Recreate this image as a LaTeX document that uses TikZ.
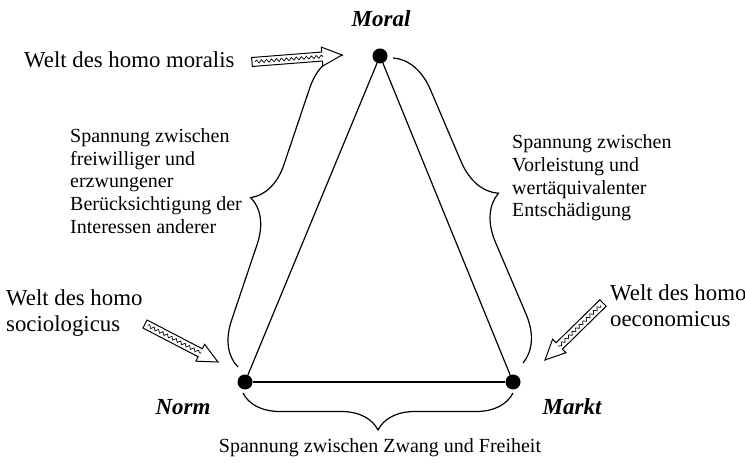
\documentclass[tikz,border=0pt]{standalone}
\usepackage{fontspec}
\setmainfont{Liberation Serif}
\usetikzlibrary{calc,decorations.pathreplacing,decorations.pathmorphing}

\begin{document}
\begin{tikzpicture}[x=1pt, y=1pt,
dot_style/.style={circle,fill=black,inner sep=0pt,minimum size=15pt},
corner_style/.style={font=\fontsize{23}{26}\selectfont\bfseries\itshape},
big_text/.style={align=left,anchor=west,inner sep=0pt,font=\fontsize{22.8}{26}\selectfont},
small_text/.style={align=left,anchor=west,inner sep=0pt,font=\fontsize{20}{22.7}\selectfont},
edge_style/.style={draw=black,line width=1.2pt},
brace_style/.style={draw=black,line width=1.2pt,decorate,decoration={brace,amplitude=#1}},
zz_outline/.style={draw=black,line width=1pt,fill=white,to path={
  ($(\tikztostart)!4.5pt!90:(\tikztotarget)$)
  -- ($(\tikztotarget)!20pt!(\tikztostart)!4.5pt!-90:(\tikztostart)$)
  -- ($(\tikztotarget)!20pt!(\tikztostart)!9.5pt!-90:(\tikztostart)$)
  -- (\tikztotarget)
  -- ($(\tikztotarget)!20pt!(\tikztostart)!9.5pt!90:(\tikztostart)$)
  -- ($(\tikztotarget)!20pt!(\tikztostart)!4.5pt!90:(\tikztostart)$)
  -- ($(\tikztostart)!4.5pt!-90:(\tikztotarget)$) -- cycle}},
zz_wave/.style={draw=black,line width=0.7pt,decorate,
  decoration={snake,amplitude=1.5pt,segment length=5pt},
  to path={($(\tikztostart)!3pt!(\tikztotarget)$) -- ($(\tikztotarget)!19pt!(\tikztostart)$)}}]
\useasboundingbox (0,0) rectangle (745,463);

% corners of the triangle
\node[dot_style] (moral) at (380,407) {};
\node[dot_style] (norm) at (245,81) {};
\node[dot_style] (markt) at (513,81) {};
\draw[edge_style] (moral) edge (norm);
\draw[edge_style] (norm) edge (markt);
\draw[edge_style] (markt) edge (moral);

\node[corner_style] (moral_label) at (381,444) {Moral};
\node[corner_style] (norm_label) at (183,56) {Norm};
\node[corner_style] (markt_label) at (572,56) {Markt};

% braces
\coordinate (left_a) at (238,96);
\coordinate (left_b) at (343,408);
\coordinate (right_a) at (393,405);
\coordinate (right_b) at (523,100);
\coordinate (bottom_a) at (513,70);
\coordinate (bottom_b) at (243,70);
\draw[brace_style=42] (left_a) -- (left_b);
\draw[brace_style=44] (right_a) -- (right_b);
\draw[brace_style=37] (bottom_a) -- (bottom_b);

\node[small_text] (left_text) at (70,282) {Spannung zwischen\\freiwilliger und\\erzwungener\\Berücksichtigung der\\Interessen anderer};
\node[small_text] (right_text) at (512,285) {Spannung zwischen\\Vorleistung und\\wertäquivalenter\\Entschädigung};
\node[small_text,anchor=center] (bottom_text) at (380,15) {Spannung zwischen Zwang und Freiheit};

% the three worlds
\node[big_text] (moralis) at (24,403) {Welt des homo moralis};
\node[big_text] (sociologicus) at (6,150) {Welt des homo\\sociologicus};
\node[big_text] (oeconomicus) at (610,157) {Welt des homo\\oeconomicus};

\coordinate (moralis_tail) at (252,401);
\coordinate (moralis_tip) at (342,408);
\coordinate (sociologicus_tail) at (145,139);
\coordinate (sociologicus_tip) at (218,101);
\coordinate (oeconomicus_tail) at (603,160);
\coordinate (oeconomicus_tip) at (545,103);
\draw[zz_outline] (moralis_tail) to (moralis_tip);
\draw[zz_wave] (moralis_tail) to (moralis_tip);
\draw[zz_outline] (sociologicus_tail) to (sociologicus_tip);
\draw[zz_wave] (sociologicus_tail) to (sociologicus_tip);
\draw[zz_outline] (oeconomicus_tail) to (oeconomicus_tip);
\draw[zz_wave] (oeconomicus_tail) to (oeconomicus_tip);
\end{tikzpicture}
\end{document}
